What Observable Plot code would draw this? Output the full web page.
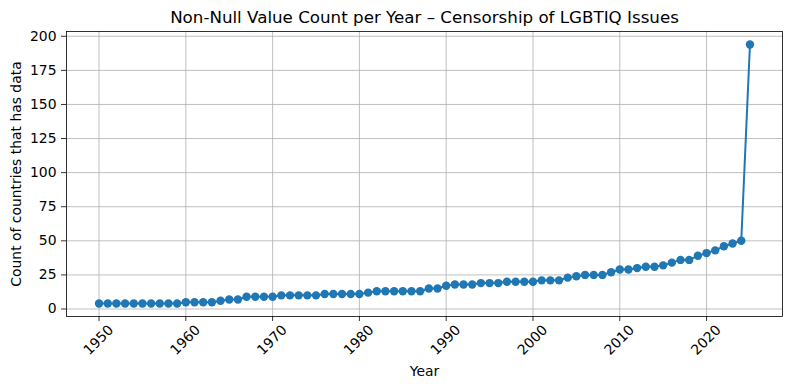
<!DOCTYPE html>
<html>
<head>
<meta charset="utf-8">
<script src="https://cdn.jsdelivr.net/npm/d3@7"></script>
<script src="https://cdn.jsdelivr.net/npm/@observablehq/plot@0.6"></script>
<style>
  html, body { margin: 0; padding: 0; background: #fff; }
  #chart svg { font-family: "DejaVu Sans", sans-serif; display: block; }
</style>
</head>
<body>
<div id="chart"></div>
<script>
const years = [
  1950,1951,1952,1953,1954,1955,1956,1957,1958,1959,
  1960,1961,1962,1963,1964,1965,1966,1967,1968,1969,
  1970,1971,1972,1973,1974,1975,1976,1977,1978,1979,
  1980,1981,1982,1983,1984,1985,1986,1987,1988,1989,
  1990,1991,1992,1993,1994,1995,1996,1997,1998,1999,
  2000,2001,2002,2003,2004,2005,2006,2007,2008,2009,
  2010,2011,2012,2013,2014,2015,2016,2017,2018,2019,
  2020,2021,2022,2023,2024,2025
];
const counts = [
  4,4,4,4,4,4,4,4,4,4,
  5,5,5,5,6,7,7,9,9,9,
  9,10,10,10,10,10,11,11,11,11,
  11,12,13,13,13,13,13,13,15,15,
  17,18,18,18,19,19,19,20,20,20,
  20,21,21,21,23,24,25,25,25,27,
  29,29,30,31,31,32,34,36,36,39,
  41,43,46,48,50,194
];
const xTicks = [1950,1960,1970,1980,1990,2000,2010,2020];
const yTicks = [0,25,50,75,100,125,150,175,200];
const titleText = "Non-Null Value Count per Year – Censorship of LGBTIQ Issues";
const xLabel = "Year";
const yLabel = "Count of countries that has data";

const data = years.map((y, i) => ({year: y, count: counts[i]}));
const blue = "#1f77b4";
const grid = "#b0b0b0";

const chart = Plot.plot({
  width: 789,
  height: 390,
  marginLeft: 66,
  marginRight: 7,
  marginTop: 31,
  marginBottom: 74,
  style: {fontFamily: "DejaVu Sans, sans-serif", color: "#000", background: "#fff"},
  x: {domain: [1946.25, 2028.75]},
  y: {domain: [-5.5, 203.5]},
  marks: [
    Plot.gridX(xTicks, {stroke: grid, strokeOpacity: 1, strokeWidth: 0.8}),
    Plot.gridY(yTicks, {stroke: grid, strokeOpacity: 1, strokeWidth: 0.8}),
    Plot.line(data, {x: "year", y: "count", stroke: blue, strokeWidth: 2}),
    Plot.dot(data, {x: "year", y: "count", fill: blue, r: 4.2, stroke: "none"}),
    Plot.frame({stroke: "#000", strokeWidth: 0.8}),
    Plot.axisY(yTicks, {tickSize: 5, tickPadding: 5, fontSize: 13.9, label: null, stroke: "#000", strokeWidth: 0.8}),
    Plot.axisX(xTicks, {tickSize: 5, tickFormat: () => "", label: null, stroke: "#000", strokeWidth: 0.8}),
    Plot.axisX(xTicks, {tickSize: 0, tickPadding: 8, tickRotate: -45, fontSize: 13.9, label: null, tickFormat: d => String(d), stroke: "none", dx: 12, dy: 3}),
    Plot.text([titleText], {text: d => d, frameAnchor: "top", dy: -14, fontSize: 16.7, fill: "#000", lineAnchor: "middle"}),
    Plot.text([xLabel], {text: d => d, frameAnchor: "bottom", dy: 55, fontSize: 13.9, fill: "#000", lineAnchor: "middle"}),
    Plot.text([yLabel], {text: d => d, frameAnchor: "left", dx: -50, rotate: -90, fontSize: 13.9, fill: "#000", lineAnchor: "middle", textAnchor: "middle"})
  ]
});
document.getElementById("chart").appendChild(chart);
</script>
</body>
</html>
